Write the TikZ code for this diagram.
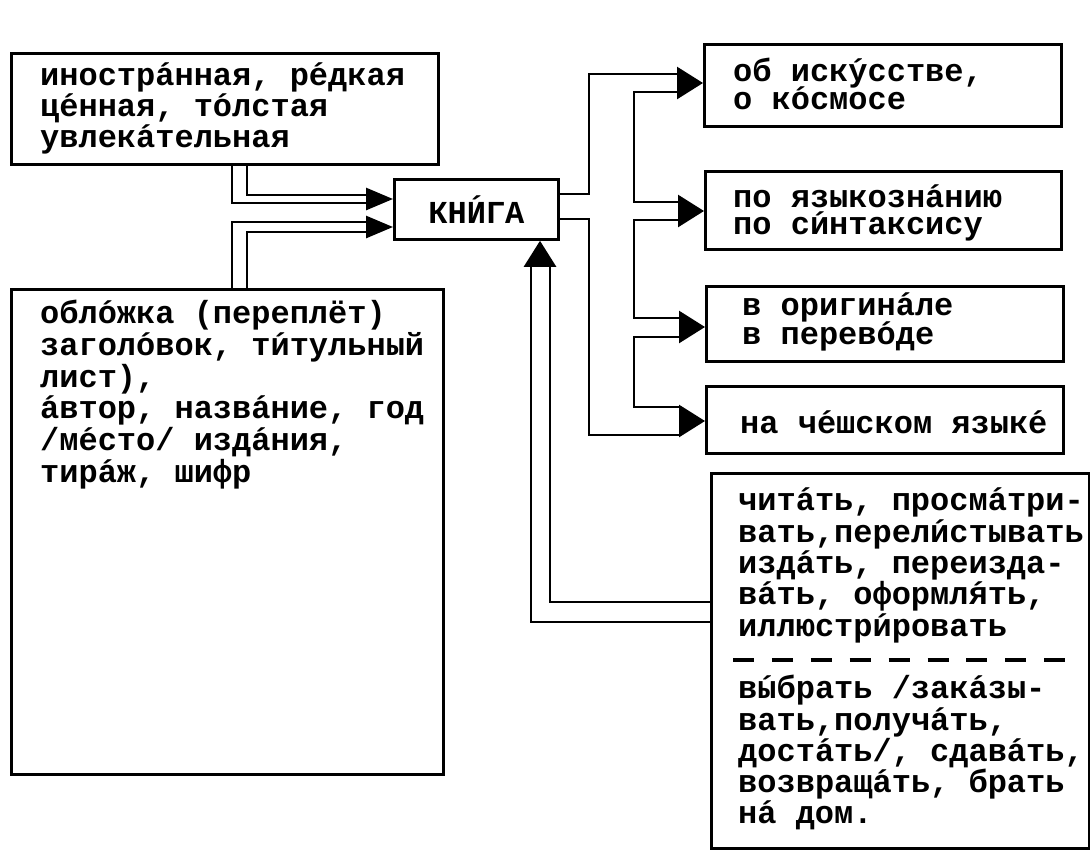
\documentclass[tikz,border=0pt]{standalone}
\usepackage{fontspec}
\setmonofont{Liberation Mono}
\usetikzlibrary{arrows.meta,calc}

\newcommand{\tw}{\ttfamily\bfseries\fontsize{32}{31}\selectfont\lineskiplimit=-100pt}
\newcommand{\ac}[1]{\rlap{#1}´}
\newcommand{\tstrut}{\rule{0pt}{27pt}}

\tikzset{
  box/.style={draw, line width=2.8pt, anchor=north west, inner sep=0pt},
  txt/.style={font=\tw, align=left, inner sep=0pt, anchor=north west, execute at begin node=\tstrut},
  pipe/.style={line width=2.8pt},
  head/.style={-{Triangle[length=26pt,width=32pt]}, line width=2.8pt},
  lhead/.style={-{Triangle[length=27pt,width=22pt]}, line width=2.8pt},
}

\begin{document}
\begin{tikzpicture}[x=1pt, y=-1pt]%
    \fill[white] (0,0) rectangle (1090,852);%
    \useasboundingbox (0,0) rectangle (1090,852);%
    \node[box, minimum width=427pt, minimum height=111pt] (A) at (10,52) {};%
    \node[txt] (Atxt) at ([shift={(30,11)}]A.north west) {иностр\ac{а}нная, р\ac{е}дкая\\ ц\ac{е}нная, т\ac{о}лстая\\ увлек\ac{а}тельная};%
    \node[box, minimum width=164pt, minimum height=60pt, font=\tw] (K) at (393,178) {КН\rlap{И}\raisebox{0.17em}{´}ГА};%
    \node[box, minimum width=432pt, minimum height=485pt] (B) at (10,288) {};%
    \node[txt, font=\tw\fontsize{32}{31.7}\selectfont] (Btxt) at ([shift={(30,12)}]B.north west) {обл\ac{о}жка (переплёт)\\ загол\ac{о}вок, т\ac{и}тульный\\ лист),\\ \ac{а}втор, назв\ac{а}ние, год\\ /м\ac{е}сто/ изд\ac{а}ния,\\ тир\ac{а}ж, шифр};%
    \node[box, minimum width=357pt, minimum height=82pt] (C1) at (703,43) {};%
    \node[txt, font=\tw\fontsize{32}{27.5}\selectfont] (C1txt) at ([shift={(30,15)}]C1.north west) {об иск\ac{у}сстве,\\ о к\ac{о}смосе};%
    \node[box, minimum width=356pt, minimum height=78pt] (C2) at (704,170) {};%
    \node[txt, font=\tw\fontsize{32}{26.5}\selectfont] (C2txt) at ([shift={(29,15)}]C2.north west) {по языкозн\ac{а}нию\\ по с\ac{и}нтаксису};%
    \node[box, minimum width=357pt, minimum height=75pt] (C3) at (705,285) {};%
    \node[txt, font=\tw\fontsize{32}{29}\selectfont] (C3txt) at ([shift={(37,8)}]C3.north west) {в оригин\ac{а}ле\\ в перев\ac{о}де};%
    \node[box, minimum width=357pt, minimum height=67pt] (C4) at (705,385) {};%
    \node[txt] (C4txt) at ([shift={(35,21)}]C4.north west) {на ч\ac{е}шском язык\ac{е}};%
    \node[box, minimum width=378pt, minimum height=375pt] (C5) at (710,472) {};%
    \node[txt, font=\tw\fontsize{32}{31.3}\selectfont] (C5txt) at ([shift={(28,16)}]C5.north west) {чит\ac{а}ть, просм\ac{а}три-\\ вать,перел\ac{и}стывать\\ изд\ac{а}ть, переизда-\\ в\ac{а}ть, оформл\ac{я}ть,\\ иллюстр\ac{и}ровать\\ \mbox{}\\ в\ac{ы}брать /зак\ac{а}зы-\\ вать,получ\ac{а}ть,\\ дост\ac{а}ть/, сдав\ac{а}ть,\\ возвращ\ac{а}ть, брать\\ н\ac{а} дом.};%
    \draw[line width=4pt, dash pattern=on 21pt off 17.9pt] ([shift={(23,188)}]C5.north west) -- ([shift={(-23,188)}]C5.north east);%
    % into the book
    \draw[pipe, shorten >=27pt] (A.south -| 232,0) |- (K.west |- 0,203);%
    \draw[pipe, shorten >=27pt] (A.south -| 247,0) |- (K.west |- 0,195);%
    \draw[pipe, shorten >=27pt] (B.north -| 232,0) |- (K.west |- 0,222);%
    \draw[pipe, shorten >=27pt] (B.north -| 247,0) |- (K.west |- 0,232);%
    \foreach \y in {199,227} \draw[lhead] ($(K.west |- 0,\y)+(-27,0)$) -- (K.west |- 0,\y);%
    \draw[pipe, shorten >=26pt] (C5.west |- 0,622) -| (K.south -| 531,0);%
    \draw[pipe, shorten >=26pt] (C5.west |- 0,602) -| (K.south -| 550,0);%
    \draw[head] ($(K.south -| 540,0)+(0,26)$) -- (K.south -| 540,0);%
    % out of the book
    \draw[pipe, shorten >=26pt] (K.east |- 0,194) -| (589,74) -- (C1.west |- 0,74);%
    \draw[pipe, shorten >=26pt] (K.east |- 0,219) -| (589,435) -- (C4.west |- 0,435);%
    \foreach \a/\b/\ya/\yb in {C1/C2/92/202, C2/C3/220/318, C3/C4/337/407}
      \draw[pipe, shorten <=26pt, shorten >=26pt] (\a.west |- 0,\ya) -| (634,\yb) -- (\b.west |- 0,\yb);%
    \foreach \bx/\y in {C1/83, C2/211, C3/327, C4/421}
      \draw[head] ($(\bx.west |- 0,\y)+(-26,0)$) -- (\bx.west |- 0,\y);%
  \end{tikzpicture}
\end{document}
